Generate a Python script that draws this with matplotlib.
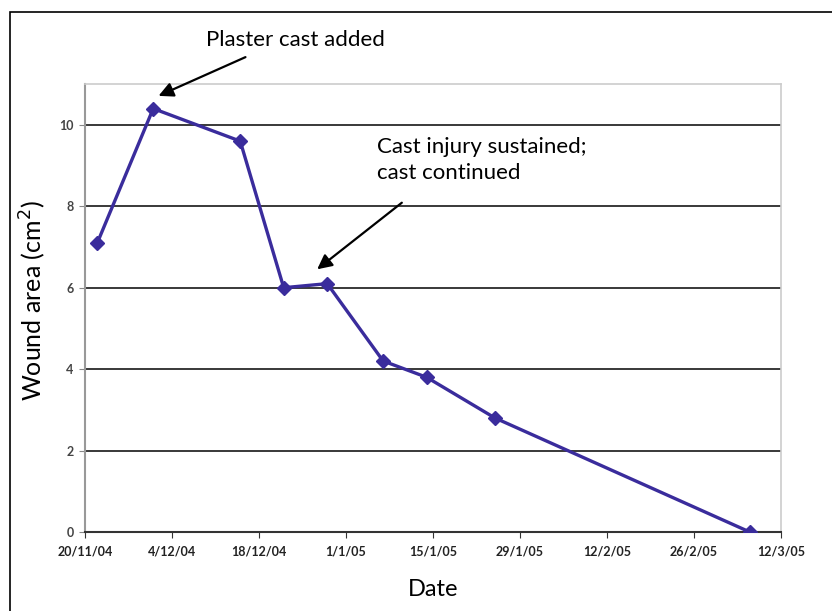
import matplotlib
matplotlib.use("Agg")
import matplotlib.pyplot as plt
from matplotlib.patches import Rectangle
import pandas as pd

# wound area measurements
visit_dates = ["2004-11-22", "2004-12-01", "2004-12-15", "2004-12-22", "2004-12-29",
               "2005-01-07", "2005-01-14", "2005-01-25", "2005-03-07"]
wound_area = [7.1, 10.4, 9.6, 6.0, 6.1, 4.2, 3.8, 2.8, 0.0]

tick_dates = pd.date_range("2004-11-20", "2005-03-12", freq="14D")
tick_labels = ["20/11/04", "4/12/04", "18/12/04", "1/1/05", "15/1/05",
               "29/1/05", "12/2/05", "26/2/05", "12/3/05"]

plt.rcParams["font.family"] = ["Lato", "DejaVu Sans"]

fig = plt.figure(figsize=(8.32, 6.11), dpi=100)
ax = fig.add_axes([0.102, 0.1293, 0.8365, 0.733])

dates = pd.to_datetime(visit_dates)
ax.plot(dates, wound_area, color="#3a2c9c", lw=2.4, marker="D", ms=7,
        markeredgecolor="#3a2c9c", zorder=3)

ax.set_xlim(tick_dates[0], tick_dates[-1])
ax.set_ylim(0, 11)
ax.set_xticks(tick_dates)
ax.set_xticklabels(tick_labels, fontsize=9, fontweight="bold", color="#222222")
ax.set_yticks(range(0, 11, 2))
ax.set_yticklabels([str(v) for v in range(0, 11, 2)], fontsize=9,
                   fontweight="bold", color="#444444")
ax.tick_params(axis="x", direction="out", length=4, color="#333333", pad=6)
ax.tick_params(axis="y", direction="out", length=4, color="#888888", pad=4)

ax.grid(axis="y", color="#2a2a2a", lw=1.3)
ax.set_axisbelow(True)
for side in ("top", "right"):
    ax.spines[side].set_color("#cccccc")
    ax.spines[side].set_linewidth(1.2)
ax.spines["left"].set_color("#999999")
ax.spines["left"].set_linewidth(1.5)
ax.spines["bottom"].set_color("#333333")
ax.spines["bottom"].set_linewidth(1.5)

ax.set_xlabel("Date", fontsize=17, labelpad=15)
ax.set_ylabel("Wound area (cm$^2$)", fontsize=18, labelpad=8)
ax.yaxis.set_label_coords(-0.053, 0.516)

# annotations
fig.text(295 / 832, 1 - 40 / 611, "Plaster cast added", fontsize=16,
         ha="center", va="center")
fig.text(377 / 832, 1 - 137 / 611, "Cast injury sustained;\ncast continued",
         fontsize=16, ha="left", va="top", linespacing=1.35)

arrow = dict(arrowstyle="-|>", color="black", lw=1.6, mutation_scale=22)
ax.annotate("", xy=(156 / 832, 1 - 97 / 611), xycoords="figure fraction",
            xytext=(248 / 832, 1 - 56 / 611), textcoords="figure fraction",
            arrowprops=arrow)
ax.annotate("", xy=(315 / 832, 1 - 271 / 611), xycoords="figure fraction",
            xytext=(404 / 832, 1 - 201 / 611), textcoords="figure fraction",
            arrowprops=arrow)

# outer frame
fig.patches.append(Rectangle((10 / 832, -0.01), 1.0, 1 - 12 / 611 + 0.01,
                             transform=fig.transFigure, fill=False,
                             edgecolor="black", lw=1.2))

fig.savefig("out.png", dpi=100)
